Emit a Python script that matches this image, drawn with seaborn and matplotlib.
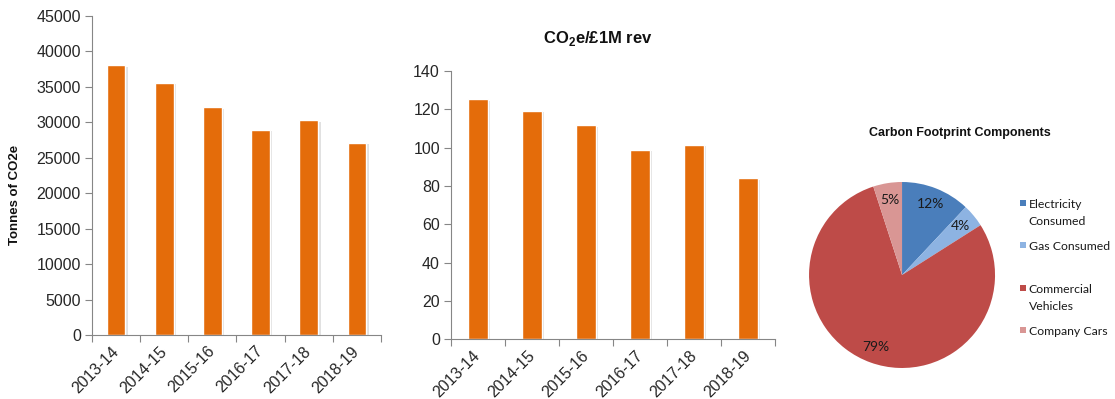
import matplotlib
matplotlib.use("Agg")
import matplotlib.pyplot as plt
import matplotlib.patheffects as pe
import matplotlib.transforms as mtransforms
from matplotlib.patches import Rectangle
from matplotlib.legend_handler import HandlerPatch
import seaborn as sns
import pandas as pd

# ---- data ----
years = ["2013-14", "2014-15", "2015-16", "2016-17", "2017-18", "2018-19"]
tonnes_co2e = [38000, 35500, 32100, 28900, 30250, 27050]
co2e_per_1m_rev = [125.2, 119.1, 111.7, 98.8, 101.4, 84.0]
tonnes_ticks = [0, 5000, 10000, 15000, 20000, 25000, 30000, 35000, 40000, 45000]
intensity_ticks = [0, 20, 40, 60, 80, 100, 120, 140]
components = ["Electricity\nConsumed", "Gas Consumed", "Commercial\nVehicles", "Company Cars"]
component_share = [12, 4, 79, 5]
component_colors = ["#4A7EBB", "#8DB3E2", "#BE4B48", "#D99694"]

# ---- style ----
sns.set_theme(style="white")
plt.rcParams["font.family"] = ["Liberation Sans", "DejaVu Sans"]
plt.rcParams["mathtext.fontset"] = "custom"
plt.rcParams["mathtext.rm"] = "Liberation Sans"
plt.rcParams["mathtext.bf"] = "Liberation Sans:bold"

ORANGE = "#E46C0A"
AXIS = "#868686"
TEXT = "#262626"
PIE_FONT = ["Lato", "DejaVu Sans"]

fig = plt.figure(figsize=(11.15, 3.99), dpi=100)
ax1 = fig.add_axes([0.0825, 0.1604, 0.2592, 0.8003])
ax2 = fig.add_axes([0.4045, 0.1496, 0.2906, 0.6724])
ax3 = fig.add_axes([0.7256, 0.0777, 0.1668, 0.4662])

label_shift = mtransforms.ScaledTranslation(0.03, -0.03, fig.dpi_scale_trans)


def bar_panel(ax, values, yticks, width):
    df = pd.DataFrame({"year": years, "value": values})
    sns.barplot(data=df, x="year", y="value", color=ORANGE, saturation=1,
                width=width, ax=ax)
    for p in ax.patches:
        p.set_path_effects([
            pe.SimplePatchShadow(offset=(1.8, -1), shadow_rgbFace="#dedede", alpha=0.9),
            pe.Normal(),
        ])
    n = len(years)
    ax.set_xlim(-0.5, n - 0.5)
    ax.set_ylim(yticks[0], yticks[-1])
    ax.set_yticks(yticks)
    ax.set_xticks(range(n))
    ax.set_xticklabels(years, rotation=45, ha="right", va="center",
                       rotation_mode="anchor")
    for lbl in ax.get_xticklabels():
        lbl.set_transform(lbl.get_transform() + label_shift)
    ax.set_xticks([i - 0.5 for i in range(n + 1)], minor=True)
    ax.tick_params(axis="x", which="major", length=0, pad=10,
                   labelsize=11.5, labelcolor=TEXT)
    ax.tick_params(axis="x", which="minor", length=5, width=0.8, color=AXIS,
                   direction="out", bottom=True)
    ax.tick_params(axis="y", length=5, width=0.8, color=AXIS, direction="out",
                   left=True, labelsize=11.5, labelcolor=TEXT, pad=3)
    for s in ("top", "right"):
        ax.spines[s].set_visible(False)
    for s in ("left", "bottom"):
        ax.spines[s].set_color(AXIS)
        ax.spines[s].set_linewidth(0.8)
    ax.set_xlabel("")
    ax.set_ylabel("")
    ax.grid(False)


# ---- absolute emissions ----
bar_panel(ax1, tonnes_co2e, tonnes_ticks, 0.39)
ax1.set_ylabel("Tonnes of CO2e", fontsize=9.5, fontweight="bold", color="#111111")
ax1.yaxis.set_label_coords(-0.245, 0.44)

# ---- emissions intensity ----
bar_panel(ax2, co2e_per_1m_rev, intensity_ticks, 0.36)
fig.text(597.5 / 1115, 1 - 39 / 399, r"CO$_\mathbf{2}$e/£1M rev", fontsize=12,
         fontweight="bold", ha="center", va="center", color="#111111")

# ---- footprint breakdown ----
wedges, texts, autotexts = ax3.pie(
    component_share, colors=component_colors, startangle=90, counterclock=False,
    autopct=lambda p: f"{p:.0f}%", pctdistance=0.82,
    wedgeprops=dict(edgecolor="none"),
    textprops=dict(fontsize=10, color="#1a1a1a", family=PIE_FONT),
)
ax3.set_xlim(-1, 1)
ax3.set_ylim(-1, 1)
ax3.set_aspect("equal")

fig.text(960 / 1115, 1 - 133 / 399, "Carbon Footprint Components", fontsize=9,
         fontweight="bold", ha="center", va="center", color="#111111")


def top_square(legend, orig_handle, xdescent, ydescent, width, height, fontsize):
    s = 0.5 * fontsize
    return Rectangle((width - s - xdescent,
                      -ydescent + (height - s) / 2 + 0.85 * fontsize), s, s)


legend_labels = [c if "\n" in c else c + "\n" for c in components]
leg = fig.legend(wedges, legend_labels, loc="upper left",
                 bbox_to_anchor=(1020 / 1115, 1 - 199 / 399),
                 frameon=False, borderpad=0, borderaxespad=0,
                 handlelength=0.5, handletextpad=0.2, labelspacing=1.15,
                 prop=dict(family=PIE_FONT, size=8.8),
                 handler_map={w: HandlerPatch(patch_func=top_square) for w in wedges})
for t in leg.get_texts():
    t.set_linespacing(1.7)
    t.set_color("#1a1a1a")

fig.savefig("out.png", dpi=100)
